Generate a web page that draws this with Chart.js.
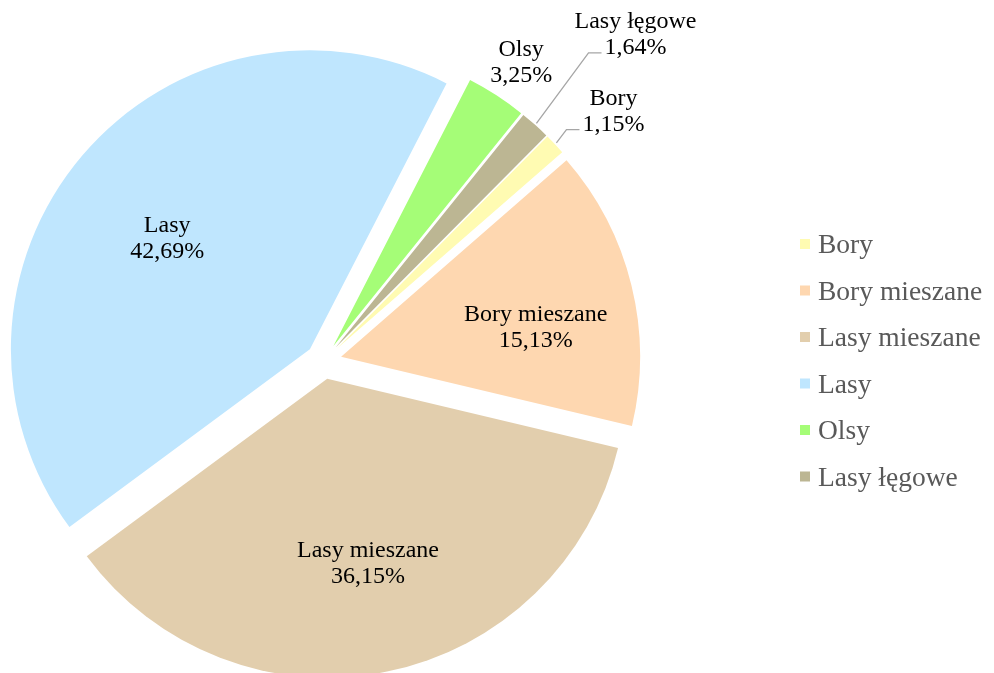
<!DOCTYPE html>
<html lang="pl">
<head>
<meta charset="utf-8">
<title>Lasy</title>
<script src="https://cdn.jsdelivr.net/npm/chart.js@4.4.1/dist/chart.umd.min.js"></script>
<style>
  html, body { margin: 0; padding: 0; background: #fff; }
  #wrap { position: relative; width: 994px; height: 673px; }
</style>
</head>
<body>
<div id="wrap"><canvas id="pie"></canvas></div>
<script>
var labels = ["Bory", "Bory mieszane", "Lasy mieszane", "Lasy", "Olsy", "Lasy łęgowe"];
var shares = [1.15, 15.13, 36.15, 42.69, 3.25, 1.64];
var colors = ["#FFFBB2", "#FED7B0", "#E2CEAD", "#BFE6FE", "#A5FD77", "#BCB693"];

// where each data label sits: distance from centre (in radii) and a small turn (deg)
var labelDist = [1.223, 0.659, 0.629, 0.607, 1.14, 1.454];
var labelTurn = [2.2, 4.4, -0.9, -2, 0.35, 1.7];
var leader = [true, false, false, false, false, true];

var EXPLODE = 18;
var SERIF = "'Times New Roman', 'Liberation Serif', serif";

// pull every slice out along its middle angle (no radius change, unlike arc offset)
var explodePlugin = {
  id: "explode",
  beforeDatasetsDraw: function (chart) {
    var ctx = chart.ctx;
    chart.getDatasetMeta(0).data.forEach(function (arc) {
      var mid = (arc.startAngle + arc.endAngle) / 2;
      ctx.save();
      ctx.translate(Math.cos(mid) * EXPLODE, Math.sin(mid) * EXPLODE);
      arc.draw(ctx, chart.chartArea);
      ctx.restore();
    });
    return false;
  }
};

var labelPlugin = {
  id: "sliceLabels",
  afterDraw: function (chart) {
    var ctx = chart.ctx;
    ctx.save();
    ctx.font = "24px " + SERIF;
    ctx.textAlign = "center";
    ctx.textBaseline = "alphabetic";
    chart.getDatasetMeta(0).data.forEach(function (arc, i) {
      var mid = (arc.startAngle + arc.endAngle) / 2;
      var a = mid + labelTurn[i] * Math.PI / 180;
      var d = EXPLODE + labelDist[i] * arc.outerRadius;
      var cx = arc.x + Math.cos(a) * d,
        cy = arc.y + Math.sin(a) * d;
      var pct = shares[i].toFixed(2).replace(".", ",") + "%";
      ctx.fillStyle = "#000";
      ctx.fillText(labels[i], cx, cy - 5);
      ctx.fillText(pct, cx, cy + 21);
      if (leader[i]) {
        var x0 = cx - ctx.measureText(pct).width / 2 - 3,
          y0 = cy + 20,
          r0 = EXPLODE + arc.outerRadius + 2;
        ctx.beginPath();
        ctx.moveTo(arc.x + Math.cos(mid) * r0, arc.y + Math.sin(mid) * r0);
        ctx.lineTo(x0 - 13, y0);
        ctx.lineTo(x0, y0);
        ctx.strokeStyle = "#A6A6A6";
        ctx.lineWidth = 1.3;
        ctx.stroke();
      }
    });

    // legend on the right
    ctx.font = "27.5px " + SERIF;
    ctx.textAlign = "left";
    labels.forEach(function (name, i) {
      var y = 244 + i * 46.5;
      ctx.fillStyle = colors[i];
      ctx.fillRect(800, y - 5, 10, 10);
      ctx.fillStyle = "#595959";
      ctx.fillText(name, 818, y + 9);
    });
    ctx.restore();
  }
};

new Chart(document.getElementById("pie"), {
  type: "pie",
  data: {
    labels: labels,
    datasets: [{ data: shares, backgroundColor: colors, borderWidth: 0 }]
  },
  options: {
    responsive: true,
    maintainAspectRatio: false,
    animation: false,
    events: [],
    rotation: 44.8,
    layout: { padding: { left: 24.6, top: 62, right: 371.4, bottom: 13 } },
    plugins: { legend: { display: false }, tooltip: { enabled: false } }
  },
  plugins: [explodePlugin, labelPlugin]
});
</script>
</body>
</html>
